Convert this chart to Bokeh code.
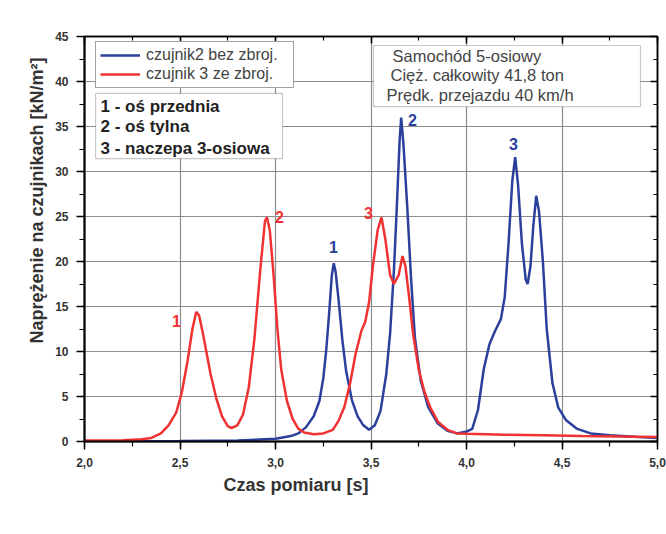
from bokeh.plotting import figure
from bokeh.models import (SingleIntervalTicker, CustomJSTickFormatter, LinearAxis, Label,
                          BoxAnnotation, Legend, LegendItem, Range1d, Title)
from bokeh.embed import file_html
from bokeh.resources import INLINE
from bokeh.core.properties import value

# ---- data ----
red_t = [2.00, 2.10, 2.20, 2.30, 2.35, 2.40, 2.44, 2.48, 2.51, 2.54, 2.565, 2.585, 2.60, 2.62,
         2.66, 2.69, 2.72, 2.75, 2.77, 2.80, 2.83, 2.86, 2.89, 2.92, 2.945, 2.955, 2.97, 2.99,
         3.01, 3.03, 3.06, 3.09, 3.12, 3.15, 3.20, 3.25, 3.30, 3.33, 3.36, 3.39, 3.42, 3.45,
         3.47, 3.49, 3.51, 3.535, 3.555, 3.575, 3.60, 3.62, 3.645, 3.665, 3.68, 3.70, 3.72,
         3.75, 3.78, 3.81, 3.85, 3.90, 3.95, 4.00, 4.20, 4.40, 4.60, 4.80, 5.00]
red_v = [0.1, 0.1, 0.15, 0.25, 0.4, 0.9, 1.8, 3.2, 5.5, 9.0, 12.5, 14.4, 14.0, 12.0,
         7.5, 4.8, 2.8, 1.7, 1.5, 1.8, 3.0, 6.0, 11.5, 19.0, 24.5, 24.9, 23.5, 18.5,
         12.5, 8.0, 4.5, 2.5, 1.4, 1.0, 0.8, 0.9, 1.3, 2.3, 3.8, 6.4, 9.8, 12.3,
         13.3, 15.5, 19.5, 23.5, 24.9, 22.5, 18.5, 17.5, 18.5, 20.6, 19.5, 16.0, 12.0,
         8.0, 5.5, 3.8, 2.2, 1.3, 0.9, 0.85, 0.75, 0.7, 0.6, 0.55, 0.5]

blue_t = [2.00, 2.50, 2.80, 3.00, 3.08, 3.12, 3.16, 3.20, 3.23, 3.25, 3.265, 3.28, 3.295, 3.305,
          3.315, 3.33, 3.35, 3.37, 3.40, 3.43, 3.46, 3.49, 3.52, 3.55, 3.58, 3.60, 3.62, 3.635,
          3.65, 3.658, 3.67, 3.69, 3.71, 3.73, 3.76, 3.80, 3.85, 3.90, 3.95, 4.00, 4.03, 4.06,
          4.09, 4.12, 4.15, 4.18, 4.20, 4.22, 4.24, 4.255, 4.27, 4.29, 4.31, 4.32, 4.335, 4.35,
          4.365, 4.38, 4.40, 4.42, 4.45, 4.48, 4.52, 4.58, 4.65, 4.75, 4.90, 5.00]
blue_v = [0.02, 0.05, 0.1, 0.3, 0.6, 0.9, 1.6, 2.8, 4.5, 7.0, 10.0, 14.0, 18.5, 19.8,
          18.8, 15.8, 11.3, 7.8, 4.6, 2.8, 1.8, 1.3, 1.8, 3.4, 7.5, 12.0, 19.0, 26.0,
          33.5, 36.0, 33.0, 26.0, 18.0, 11.5, 6.8, 3.8, 2.0, 1.2, 0.9, 1.1, 1.4, 3.5,
          8.0, 10.8, 12.3, 13.6, 16.0, 22.0, 29.0, 31.6, 28.5, 22.0, 18.0, 17.5, 19.5, 24.0,
          27.3, 25.5, 20.0, 12.5, 6.5, 3.8, 2.4, 1.4, 0.9, 0.7, 0.5, 0.4]

series_names = ["czujnik2 bez zbroj.", "czujnik 3 ze zbroj."]

peak_labels = ["1", "2", "3"]
red_peak_t = [2.482, 3.021, 3.487]
red_peak_v = [13.4, 24.9, 25.4]
blue_peak_t = [3.304, 3.717, 4.246]
blue_peak_v = [21.6, 35.7, 33.1]

axle_notes = ["1 - oś przednia", "2 - oś tylna", "3 - naczepa 3-osiowa"]
vehicle_notes = ["Samochód 5-osiowy", "Cięż. całkowity 41,8 ton", "Prędk. przejazdu 40 km/h"]

x_title = "Czas pomiaru [s]"
y_title = "Naprężenie na czujnikach [kN/m²]"

BLUE = "#2b3f9c"
RED = "#f03232"
FONT = "Liberation Sans"

p = figure(width=666, height=534, output_backend="svg", toolbar_location=None,
           x_range=Range1d(2.0, 5.0), y_range=Range1d(0, 45),
           min_border_left=84, min_border_right=9, min_border_top=36, min_border_bottom=93,
           x_axis_location=None, y_axis_location=None)
p.outline_line_color = "black"
p.outline_line_width = 1.5
p.background_fill_color = "white"
p.border_fill_color = "white"

xt = SingleIntervalTicker(interval=0.5, num_minor_ticks=2)
yt = SingleIntervalTicker(interval=5, num_minor_ticks=2)

def style_axis(ax, labels=True, inward=False):
    ax.axis_line_color = "black"
    ax.axis_line_width = 2
    ax.major_tick_line_color = "black"
    ax.minor_tick_line_color = "black"
    ax.major_tick_line_width = 1.5
    ax.minor_tick_line_width = 1.2
    if inward:
        ax.major_tick_in, ax.major_tick_out = 7, 0
        ax.minor_tick_in, ax.minor_tick_out = 4, 0
    else:
        ax.major_tick_in, ax.major_tick_out = 0, 8
        ax.minor_tick_in, ax.minor_tick_out = 0, 5
    ax.major_label_text_font = FONT
    ax.major_label_text_font_style = "bold"
    ax.major_label_text_font_size = "12px"
    ax.major_label_text_color = "#333333"
    if not labels:
        ax.major_label_text_font_size = "0px"
        ax.major_label_text_color = None

fmt = CustomJSTickFormatter(code="return tick.toFixed(1).replace('.', ',');")

xb = LinearAxis(ticker=xt, formatter=fmt, major_label_standoff=8)
style_axis(xb)
p.add_layout(xb, "below")
yl = LinearAxis(ticker=yt, major_label_standoff=8)
style_axis(yl)
p.add_layout(yl, "left")
xtop = LinearAxis(ticker=xt)
style_axis(xtop, labels=False, inward=True)
xtop.axis_line_width = 1.5
p.add_layout(xtop, "above")
yr = LinearAxis(ticker=yt)
style_axis(yr, labels=False, inward=True)
yr.axis_line_width = 1.5
p.add_layout(yr, "right")

p.add_layout(Title(text=x_title, align="left", offset=139, standoff=10, vertical_align="top",
                   text_font=FONT, text_font_style="bold", text_font_size="18px",
                   text_color="#333333"), "below")
p.add_layout(Title(text=y_title, align="right", offset=21, standoff=12, vertical_align="bottom",
                   text_font=FONT, text_font_style="bold", text_font_size="18px",
                   text_color="#333333"), "left")

p.xgrid.ticker = xt
p.ygrid.ticker = yt
for g in (p.xgrid, p.ygrid):
    g.grid_line_color = "#8c8c8c"
    g.grid_line_width = 1.2

rb = p.line(blue_t, blue_v, line_color=BLUE, line_width=2.5)
rr = p.line(red_t, red_v, line_color=RED, line_width=2.5)

legend = Legend(items=[LegendItem(label=series_names[0], renderers=[rb]),
                       LegendItem(label=series_names[1], renderers=[rr])],
                location=(11, 353), orientation="vertical",
                padding=4, spacing=1, margin=0,
                glyph_width=40, glyph_height=16, label_height=16, label_standoff=6,
                label_width=143,
                label_text_font=FONT, label_text_font_size="16px", label_text_color="#444444",
                border_line_color="#444444", border_line_width=1.2,
                background_fill_color="white", background_fill_alpha=1)
p.add_layout(legend)

# boxes for notes
p.add_layout(BoxAnnotation(left=2.058, right=3.037, top=38.67, bottom=31.44,
                           fill_color="white", fill_alpha=1, line_color="#444444",
                           line_width=1.2, level="annotation"))
p.add_layout(BoxAnnotation(left=3.513, right=4.911, top=44.0, bottom=37.2,
                           fill_color="white", fill_alpha=1, line_color="#444444",
                           line_width=1.2, level="annotation"))

note_y = [37.2, 35.0, 32.6]
for txt, yy in zip(axle_notes, note_y):
    p.add_layout(Label(x=2.084, y=yy, text=txt, text_font=FONT, text_font_style="bold",
                       text_font_size="17px", text_color="#222222",
                       text_baseline="middle", text_align="left"))

veh_x = [3.613, 3.602, 3.581]
veh_y = [42.8, 40.7, 38.5]
for txt, xx, yy in zip(vehicle_notes, veh_x, veh_y):
    p.add_layout(Label(x=xx, y=yy, text=txt, text_font=FONT, text_font_size="16.5px",
                       text_color="#444444", text_baseline="middle", text_align="left"))
p.segment(x0=[3.613], y0=[41.75], x1=[4.387], y1=[41.75], line_color="#444444", line_width=1)

p.text(x=red_peak_t, y=red_peak_v, text=peak_labels, text_color=RED,
       text_font=value(FONT), text_font_style="bold", text_font_size="16px",
       text_align="center", text_baseline="middle")
p.text(x=blue_peak_t, y=blue_peak_v, text=peak_labels, text_color=BLUE,
       text_font=value(FONT), text_font_style="bold", text_font_size="16px",
       text_align="center", text_baseline="middle")

open("out.html", "w").write(file_html(p, INLINE))
